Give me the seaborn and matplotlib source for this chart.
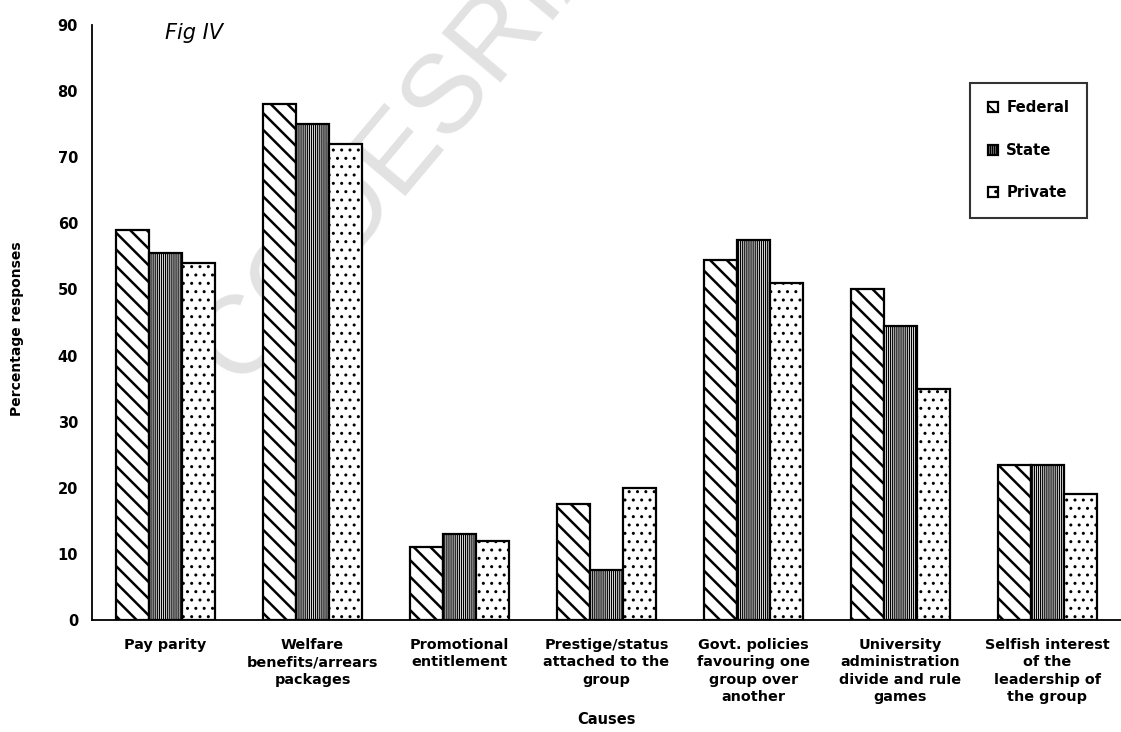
# Causes of conflict between staff groups, by type of university (Fig IV)
import pandas as pd
import matplotlib
matplotlib.use('Agg')
import matplotlib.pyplot as plt
import seaborn as sns

causes = ['Pay parity',
          'Welfare\nbenefits/arrears\npackages',
          'Promotional\nentitlement',
          'Prestige/status\nattached to the\ngroup',
          'Govt. policies\nfavouring one\ngroup over\nanother',
          'University\nadministration\ndivide and rule\ngames',
          'Selfish interest\nof the\nleadership of\nthe group']
sectors = ['Federal', 'State', 'Private']
federal = [59, 78, 11, 17.5, 54.5, 50, 23.5]
state = [55.5, 75, 13, 7.5, 57.5, 44.5, 23.5]
private = [54, 72, 12, 20, 51, 35, 19]

HATCHES = {'Federal': '\\\\', 'State': '||||||||', 'Private': '..'}
HATCH_LW = {'Federal': 1.8, 'State': 0.9, 'Private': 1.0}


def build_frame():
    """Long table: one row per bar."""
    rows = []
    for sector, vals in zip(sectors, [federal, state, private]):
        for cause, v in zip(causes, vals):
            rows.append({'cause': cause, 'sector': sector, 'value': v})
    return pd.DataFrame(rows)


def main():
    sns.set_style('white')
    plt.rcParams['font.family'] = ['DejaVu Sans']
    plt.rcParams['hatch.linewidth'] = 1.2
    for k in ['text.color', 'axes.labelcolor', 'xtick.color', 'ytick.color']:
        plt.rcParams[k] = 'black'

    df = build_frame()
    fig = plt.figure(figsize=(11.21, 7.32), dpi=100)
    ax = fig.add_axes([0.082, 0.153, 0.918, 0.813])

    sns.barplot(data=df, x='cause', y='value', hue='sector',
                order=causes, hue_order=sectors,
                palette=['white'] * 3, edgecolor='black', linewidth=1.6,
                width=0.67, gap=0, legend=False, ax=ax)

    handles = []
    for sector, cont in zip(sectors, ax.containers):
        for p in cont.patches:
            p.set_hatch(HATCHES[sector])
            if hasattr(p, 'set_hatch_linewidth'):
                p.set_hatch_linewidth(HATCH_LW[sector])
        handles.append(cont.patches[0])

    ax.set_xlim(-0.5, 6.5)
    ax.set_ylim(0, 90)
    ax.set_yticks(range(0, 91, 10))
    for s in ['top', 'right']:
        ax.spines[s].set_visible(False)
    for s in ['left', 'bottom']:
        ax.spines[s].set_color('black')
        ax.spines[s].set_linewidth(1.3)

    ax.set_xticks(range(len(causes)))
    ax.set_xticklabels(causes, fontsize=10.4, fontweight='bold', linespacing=1.3,
                       va='top')
    ax.set_xticks([i + 0.5 for i in range(6)], minor=True)
    ax.tick_params(axis='x', which='major', length=0, pad=13)
    ax.tick_params(axis='x', which='minor', length=5, width=1.2,
                   direction='out', color='black')
    ax.tick_params(axis='y', length=5, width=1.2, direction='out',
                   color='black', labelsize=10.5, pad=5)
    for t in ax.get_yticklabels():
        t.set_fontweight('bold')

    ax.set_xlabel('Causes', fontsize=10.5, fontweight='bold', va='top')
    ax.xaxis.set_label_coords(0.5, -0.155)
    ax.set_ylabel('Percentage responses', fontsize=10, fontweight='bold')
    ax.yaxis.set_label_coords(-0.066, 0.49)

    leg = ax.legend(handles=handles, labels=sectors, loc='upper right',
                    bbox_to_anchor=(0.967, 0.903), fancybox=False,
                    edgecolor='black', fontsize=10.7, handlelength=0.7,
                    handleheight=0.7, handletextpad=0.55, labelspacing=1.85,
                    borderpad=1.2, borderaxespad=0)
    leg.get_frame().set_linewidth(1.5)
    for t in leg.get_texts():
        t.set_fontweight('bold')

    # scanned page marks: watermark sits behind the bars
    ax.text(0.36, 0.80, 'CODESRIA', transform=fig.transFigure,
            fontsize=80, color='#e2e2e2', family='Liberation Sans',
            rotation=50, rotation_mode='anchor', ha='center', va='center',
            zorder=0.5, clip_on=False)
    fig.text(0.147, 0.955, 'Fig IV', fontsize=15, color='black', style='italic',
             ha='left', va='center')

    fig.savefig('out.png', dpi=100)


if __name__ == '__main__':
    main()
